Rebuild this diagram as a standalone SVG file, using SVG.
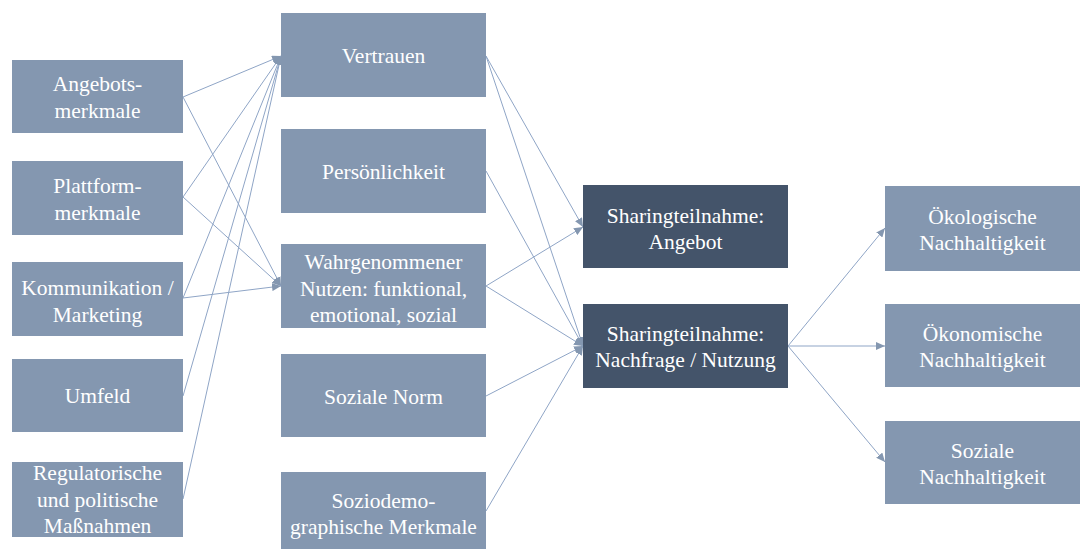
<svg xmlns="http://www.w3.org/2000/svg" width="1080" height="549" viewBox="0 0 1080 549">
<defs>
<marker id="ah" markerUnits="userSpaceOnUse" markerWidth="10" markerHeight="8" refX="9" refY="4" orient="auto">
<path d="M0,0 L9,4 L0,8 Z" fill="#8497B0"/>
</marker>
<style>
.n rect{fill:#8497B0}
.d rect{fill:#44546A}
text{font-family:'Liberation Serif','DejaVu Serif',serif;font-size:21.5px;fill:#FFFFFF;text-anchor:middle}
#connectors line{stroke:#8FA5C6;stroke-width:1;fill:none;marker-end:url(#ah)}
</style>
</defs>
<rect width="1080" height="549" fill="#FFFFFF"/>
<g id="connectors">
<line x1="183" y1="97" x2="281" y2="56"/>
<line x1="183" y1="97" x2="281" y2="286"/>
<line x1="183" y1="197" x2="281" y2="56"/>
<line x1="183" y1="197" x2="281" y2="286"/>
<line x1="183" y1="298" x2="281" y2="56"/>
<line x1="183" y1="298" x2="281" y2="286"/>
<line x1="183" y1="396" x2="281" y2="56"/>
<line x1="183" y1="499" x2="281" y2="56"/>
<line x1="486" y1="56" x2="583" y2="227"/>
<line x1="486" y1="56" x2="583" y2="346"/>
<line x1="486" y1="171" x2="583" y2="346"/>
<line x1="486" y1="286" x2="583" y2="227"/>
<line x1="486" y1="286" x2="583" y2="346"/>
<line x1="486" y1="396" x2="583" y2="346"/>
<line x1="486" y1="511" x2="583" y2="346"/>
<line x1="788" y1="346" x2="885" y2="228"/>
<line x1="788" y1="346" x2="885" y2="346"/>
<line x1="788" y1="346" x2="885" y2="462"/>
</g>
<g id="angebotsmerkmale" class="n"><rect x="12" y="60" width="171" height="73"/><text x="97.5" y="91">Angebots-</text><text x="97.5" y="118">merkmale</text></g>
<g id="plattformmerkmale" class="n"><rect x="12" y="161" width="171" height="74"/><text x="97.5" y="193">Plattform-</text><text x="97.5" y="220">merkmale</text></g>
<g id="kommunikation" class="n"><rect x="12" y="262" width="171" height="74"/><text x="97.5" y="295">Kommunikation /</text><text x="97.5" y="322">Marketing</text></g>
<g id="umfeld" class="n"><rect x="12" y="359" width="171" height="73"/><text x="97.5" y="403">Umfeld</text></g>
<g id="regulatorische" class="n"><rect x="12" y="462" width="171" height="75"/><text x="97.5" y="480">Regulatorische</text><text x="97.5" y="507">und politische</text><text x="97.5" y="533">Maßnahmen</text></g>
<g id="vertrauen" class="n"><rect x="281" y="13" width="205" height="84"/><text x="383.5" y="63">Vertrauen</text></g>
<g id="persoenlichkeit" class="n"><rect x="281" y="129" width="205" height="84"/><text x="383.5" y="179">Persönlichkeit</text></g>
<g id="nutzen" class="n"><rect x="281" y="244" width="205" height="84"/><text x="383.5" y="269">Wahrgenommener</text><text x="383.5" y="296">Nutzen: funktional,</text><text x="383.5" y="322">emotional, sozial</text></g>
<g id="norm" class="n"><rect x="281" y="354" width="205" height="83"/><text x="383.5" y="404">Soziale Norm</text></g>
<g id="soziodemo" class="n"><rect x="281" y="472" width="205" height="80"/><text x="383.5" y="508">Soziodemo-</text><text x="383.5" y="534">graphische Merkmale</text></g>
<g id="angebot" class="d"><rect x="583" y="185" width="205" height="83"/><text x="685.5" y="223">Sharingteilnahme:</text><text x="685.5" y="249">Angebot</text></g>
<g id="nachfrage" class="d"><rect x="583" y="304" width="205" height="84"/><text x="685.5" y="341">Sharingteilnahme:</text><text x="685.5" y="367">Nachfrage / Nutzung</text></g>
<g id="oekologisch" class="n"><rect x="885" y="186" width="195" height="85"/><text x="982.5" y="224">Ökologische</text><text x="982.5" y="250">Nachhaltigkeit</text></g>
<g id="oekonomisch" class="n"><rect x="885" y="304" width="195" height="83"/><text x="982.5" y="341">Ökonomische</text><text x="982.5" y="367">Nachhaltigkeit</text></g>
<g id="sozial" class="n"><rect x="885" y="421" width="195" height="83"/><text x="982.5" y="458">Soziale</text><text x="982.5" y="484">Nachhaltigkeit</text></g>
</svg>
